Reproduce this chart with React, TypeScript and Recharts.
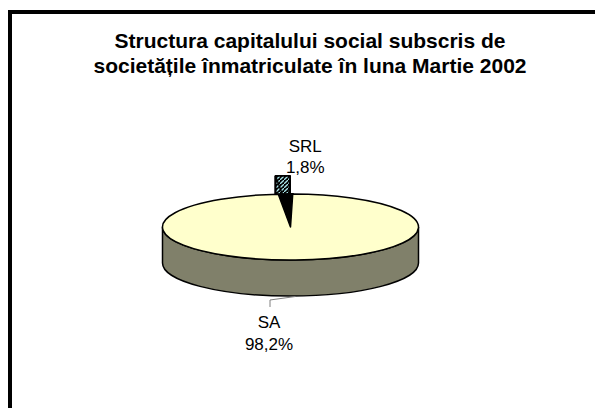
import React from 'react';
import { PieChart, Pie, Cell } from 'recharts';

const categories = ['SRL', 'SA'];
const shares = [1.8, 98.2];
const titleLines = [
  'Structura capitalului social subscris de',
  'societățile înmatriculate în luna Martie 2002',
];
const data = categories.map((name, i) => ({ name, value: shares[i] }));

const TILT = 0.258;
const DEPTH = 36;
const EXPLODE = 70;
const TOP_FILL = '#FFFFCC';
const SIDE_FILL = '#80806A';
const FONT = '"Liberation Sans", Arial, Helvetica, sans-serif';

const rad = (a: number) => (a * Math.PI) / 180;

function pt(cx: number, cy: number, rx: number, a: number, dx = 0, dy = 0): [number, number] {
  return [cx + rx * Math.cos(rad(a)) + dx, cy - rx * TILT * Math.sin(rad(a)) + dy];
}

function arcTo(cx: number, cy: number, rx: number, a1: number, a2: number, dx = 0, dy = 0) {
  const ry = rx * TILT;
  const [x2, y2] = pt(cx, cy, rx, a2, dx, dy);
  const large = Math.abs(a2 - a1) > 180 ? 1 : 0;
  const sweep = a2 > a1 ? 0 : 1;
  return `A ${rx} ${ry} 0 ${large} ${sweep} ${x2} ${y2}`;
}

function sidePath(cx: number, cy: number, rx: number, a1: number, a2: number, dx = 0, dy = 0) {
  const [x1, y1] = pt(cx, cy, rx, a1, dx, dy);
  const [x2, y2] = pt(cx, cy, rx, a2, dx, dy);
  return (
    `M ${x1} ${y1} ` +
    arcTo(cx, cy, rx, a1, a2, dx, dy) +
    ` L ${x2} ${y2 + DEPTH} ` +
    arcTo(cx, cy, rx, a2, a1, dx, dy + DEPTH) +
    ' Z'
  );
}

function frontRanges(s: number, e: number): [number, number][] {
  const out: [number, number][] = [];
  [[180, 360], [540, 720]].forEach(([f1, f2]) => {
    const a = Math.max(s, f1);
    const b = Math.min(e, f2);
    if (b > a) out.push([a, b]);
  });
  return out;
}

const fmtPct = (p: number) => `${(p * 100).toFixed(1).replace('.', ',')}%`;

const renderSlice = (props: any) => {
  const { cx, cy, outerRadius: rx, startAngle: s, endAngle: e, name, percent, index } = props;
  const mid = (s + e) / 2;
  const textStyle = { fontFamily: FONT, fontSize: 17, fill: '#000' };

  if (index === 0) {
    // exploded small slice (SRL)
    const dx = EXPLODE * Math.cos(rad(mid));
    const dy = -EXPLODE * TILT * Math.sin(rad(mid));
    const c: [number, number] = [cx + dx, cy + dy];
    const ps = pt(cx, cy, rx, s, dx, dy);
    const pe = pt(cx, cy, rx, e, dx, dy);
    const faceE = `M ${c[0]} ${c[1]} L ${pe[0]} ${pe[1]} L ${pe[0]} ${pe[1] + DEPTH} L ${c[0]} ${c[1] + DEPTH} Z`;
    const faceS = `M ${c[0]} ${c[1]} L ${ps[0]} ${ps[1]} L ${ps[0]} ${ps[1] + DEPTH} L ${c[0]} ${c[1] + DEPTH} Z`;
    const outer = sidePath(cx, cy, rx, s, e, dx, dy);
    const top = `M ${c[0]} ${c[1]} L ${ps[0]} ${ps[1]} ` + arcTo(cx, cy, rx, s, e, dx, dy) + ' Z';
    const anchor = pt(cx, cy, rx, mid, dx, dy);
    return (
      <g key={`slice-${index}`}>
        <defs>
          <pattern id="srlHatch" patternUnits="userSpaceOnUse" width="4" height="4">
            <rect width="4" height="4" fill="#000" />
            <path d="M -1 5 L 5 -1" stroke="#A8E4E8" strokeWidth="1.3" />
          </pattern>
        </defs>
        <path d={faceS} fill="#000" stroke="#000" strokeWidth={2} />
        <path d={faceE} fill="#000" stroke="#000" strokeWidth={2} />
        <path d={outer} fill="url(#srlHatch)" stroke="#000" strokeWidth={2} strokeLinejoin="round" />
        <path d={top} fill="url(#srlHatch)" stroke="#000" strokeWidth={1.5} strokeLinejoin="round" />
        <text x={anchor[0] + 22.5} y={anchor[1] - 24} textAnchor="middle" style={textStyle}>
          {name}
        </text>
        <text x={anchor[0] + 22.5} y={anchor[1] - 3} textAnchor="middle" style={textStyle}>
          {fmtPct(percent)}
        </text>
      </g>
    );
  }

  // big slice (SA)
  const ps = pt(cx, cy, rx, s);
  const pe = pt(cx, cy, rx, e);
  const gap = `M ${cx} ${cy} L ${pe[0]} ${pe[1]} ` + arcTo(cx, cy, rx, e, s + 360) + ' Z';
  const top = `M ${cx} ${cy} L ${ps[0]} ${ps[1]} ` + arcTo(cx, cy, rx, s, e) + ' Z';
  const bottom = pt(cx, cy, rx, mid, 0, DEPTH);
  const lx = bottom[0] - 25.5;
  return (
    <g key={`slice-${index}`}>
      <path d={gap} fill="#000" stroke="#000" strokeWidth={2} />
      {frontRanges(s, e).map(([a, b], i) => (
        <path key={i} d={sidePath(cx, cy, rx, a, b)} fill={SIDE_FILL} stroke="#000" strokeWidth={1.5} />
      ))}
      <path d={top} fill={TOP_FILL} stroke="#000" strokeWidth={1.5} strokeLinejoin="round" />
      <path
        d={`M ${bottom[0]} ${bottom[1] + 0.5} L ${lx} ${bottom[1] + 4} L ${lx} ${bottom[1] + 11}`}
        fill="none"
        stroke="#808080"
        strokeWidth={1}
      />
      <text x={lx - 1} y={bottom[1] + 32} textAnchor="middle" style={textStyle}>
        {name}
      </text>
      <text x={lx - 1} y={bottom[1] + 54} textAnchor="middle" style={textStyle}>
        {fmtPct(percent)}
      </text>
    </g>
  );
};

export default function App() {
  return (
    <div
      style={{
        position: 'absolute',
        left: 0,
        top: 0,
        width: 595,
        height: 408,
        overflow: 'hidden',
        background: '#fff',
      }}
    >
      <div
        style={{
          position: 'absolute',
          left: 8,
          top: 10,
          width: 700,
          height: 500,
          borderLeft: '4.5px solid #000',
          borderTop: '4px solid #000',
        }}
      />
      <div
        style={{
          position: 'absolute',
          left: 60,
          top: 28,
          width: 500,
          textAlign: 'center',
          fontFamily: FONT,
          fontWeight: 'bold',
          fontSize: 21,
          lineHeight: '25px',
          color: '#000',
          whiteSpace: 'nowrap',
        }}
      >
        {titleLines.map((l, i) => (
          <div key={i}>{l}</div>
        ))}
      </div>
      <div style={{ position: 'absolute', left: 0, top: 0 }}>
        <PieChart width={595} height={408} margin={{ top: 0, right: 0, bottom: 0, left: 0 }}>
          <Pie
            data={data}
            dataKey="value"
            nameKey="name"
            cx={290.5}
            cy={227}
            innerRadius={0}
            outerRadius={128}
            startAngle={89}
            endAngle={449}
            stroke="none"
            labelLine={false}
            label={renderSlice}
            isAnimationActive={false}
          >
            {data.map((d) => (
              <Cell key={d.name} fill="none" stroke="none" />
            ))}
          </Pie>
        </PieChart>
      </div>
    </div>
  );
}
